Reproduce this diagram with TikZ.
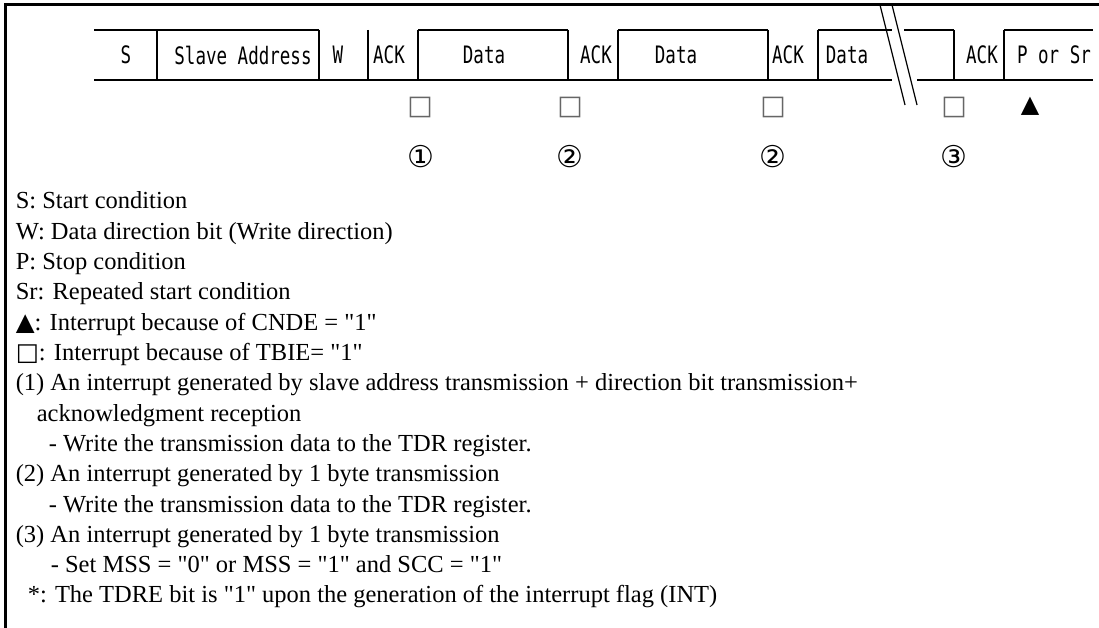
\documentclass[tikz,border=0pt]{standalone}
\usepackage{fontspec}
\setmainfont{Liberation Serif}[Ligatures=TeXOff]
\newfontfamily\gothic[FakeStretch=0.73]{DejaVu Sans Mono}
\newfontfamily\symfont{DejaVu Sans}

\tikzset{
  field/.style={font=\gothic\fontsize{24}{24}\selectfont, inner sep=0pt},
  tbmark/.style={font=\symfont\fontsize{27}{27}\selectfont, text=black!60, inner sep=0pt},
  cnmark/.style={font=\symfont\fontsize{24}{24}\selectfont, inner sep=0pt},
  circnum/.style={font=\symfont\fontsize{30}{30}\selectfont, inner sep=0pt},
  legend/.style={font=\fontsize{24.5}{24.5}\selectfont, inner sep=0pt, anchor=base west},
}

\begin{document}
\begin{tikzpicture}[x=1pt,y=-1pt,line width=1.6pt]
  \useasboundingbox (0,0) rectangle (1099,628);
  % frame
  \draw[line width=3pt] (5,628) -- (5,5) -- (1099,5);
  % field row
  \foreach \a/\b in {94/319,418/568,618/768,818/892,904/954,1004/1093}
    \draw (\a,30) -- (\b,30);
  \draw (94,80) -- (892,80);
  \draw (917,80) -- (1093,80);
  \foreach \xx in {157,319,368,418,568,618,768,818,954,1004}
    \draw (\xx,30) -- (\xx,80);
  % break mark
  \draw[line width=1.2pt] (880,5) -- (905,105);
  \draw[line width=1.2pt] (892,5) -- (917,105);
  \foreach \xx/\txt [count=\i] in {126/S,243/{Slave Address},338/W,389/ACK,484/Data,
      596/ACK,676/Data,788/ACK,847/Data,982/ACK,1054/{P or Sr}}
    \node[field] (f\i) at (\xx,55) {\txt};
  % interrupt marks
  \foreach \xx [count=\i] in {420,570,773,954}
    \node[tbmark] (q\i) at (\xx,107) {□};
  \node[cnmark] (t1) at (1030,106) {▲};
  \foreach \xx/\num [count=\i] in {421/①,570/②,773/②,954/③}
    \node[circnum] (c\i) at (\xx,157) {\num};
  % legend
  \foreach \xx/\txt [count=\i from 0] in {
      15/{S: Start condition},
      15/{W: Data direction bit (Write direction)},
      15/{P: Stop condition},
      15/{Sr: Repeated start condition},
      15/{{\symfont▲}: Interrupt because of CNDE = "1"},
      15/{{\symfont□}: Interrupt because of TBIE= "1"},
      15/{(1) An interrupt generated by slave address transmission + direction bit transmission+},
      36/{acknowledgment reception},
      48/{- Write the transmission data to the TDR register.},
      15/{(2) An interrupt generated by 1 byte transmission},
      48/{- Write the transmission data to the TDR register.},
      15/{(3) An interrupt generated by 1 byte transmission},
      50/{- Set MSS = "0" or MSS = "1" and SCC = "1"},
      27/{*: The TDRE bit is "1" upon the generation of the interrupt flag (INT)}}
    \node[legend] (l\i) at ({\xx},{209+30.3*\i}) {\txt};
\end{tikzpicture}
\end{document}
